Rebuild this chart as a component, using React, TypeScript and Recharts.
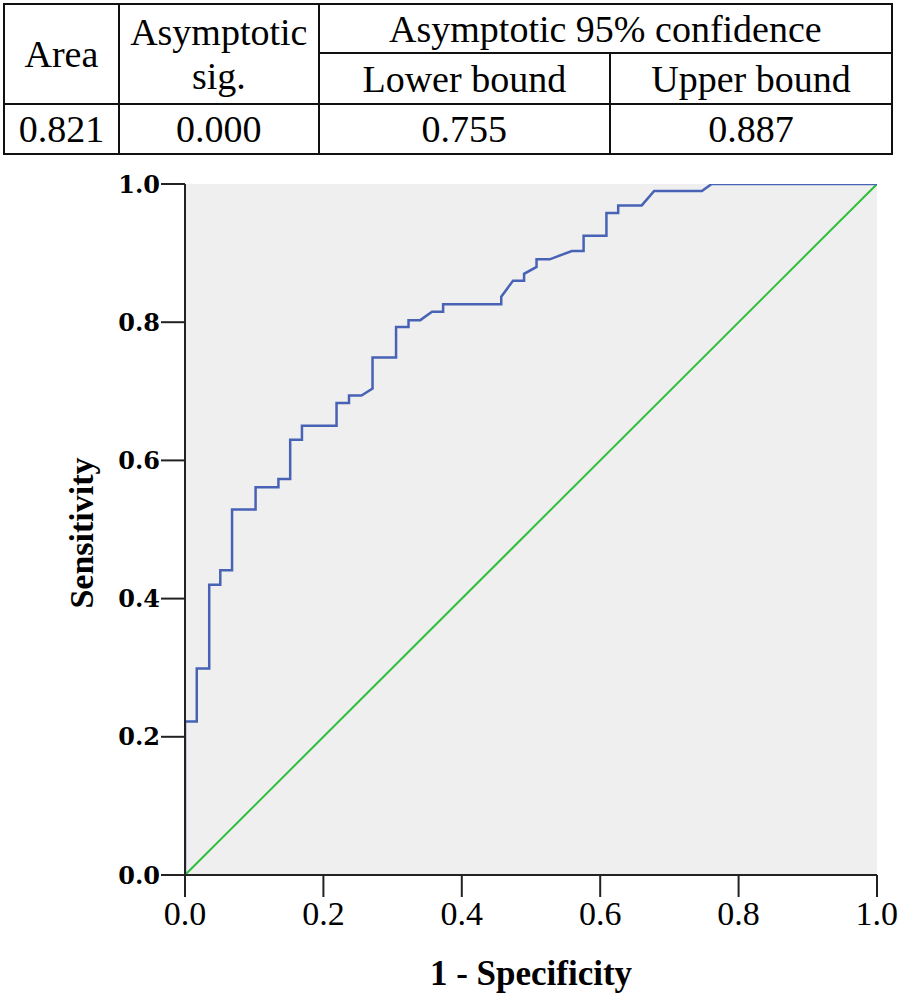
import React from 'react';
import { LineChart, Line, XAxis, YAxis, CartesianGrid, Label } from 'recharts';

// ROC curve vertices
const fpr = [
  0, 0, 0.017, 0.017, 0.035, 0.035, 0.051, 0.051, 0.068, 0.068, 0.102, 0.102,
  0.135, 0.135, 0.152, 0.152, 0.169, 0.169, 0.219, 0.219, 0.237, 0.237, 0.255,
  0.271, 0.271, 0.305, 0.305, 0.323, 0.323, 0.34, 0.357, 0.373, 0.373, 0.457,
  0.457, 0.474, 0.49, 0.49, 0.508, 0.508, 0.527, 0.559, 0.576, 0.576, 0.609,
  0.609, 0.626, 0.626, 0.66, 0.678, 0.747, 0.761, 1.0,
];
const tpr = [
  0, 0.222, 0.222, 0.299, 0.299, 0.42, 0.42, 0.441, 0.441, 0.529, 0.529, 0.561,
  0.561, 0.573, 0.573, 0.63, 0.63, 0.65, 0.65, 0.683, 0.683, 0.694, 0.694,
  0.704, 0.749, 0.749, 0.793, 0.793, 0.803, 0.803, 0.815, 0.815, 0.826, 0.826,
  0.837, 0.86, 0.86, 0.87, 0.88, 0.891, 0.891, 0.903, 0.903, 0.925, 0.925,
  0.958, 0.958, 0.969, 0.969, 0.99, 0.99, 1.0, 1.0,
];
const diagX = [0, 1];
const diagY = [0, 1];
const axisTicks = [0, 0.2, 0.4, 0.6, 0.8, 1.0];

const tableHead = ['Area', 'Asymptotic', 'sig.', 'Asymptotic 95% confidence', 'Lower bound', 'Upper bound'];
const tableRow = ['0.821', '0.000', '0.755', '0.887'];

const rocRows = fpr.map((x, i) => ({ x, y: tpr[i] }));
const diagRows = diagX.map((x, i) => ({ x, y: diagY[i] }));

const serif = '"Liberation Serif", "Times New Roman", serif';

const cell: React.CSSProperties = {
  border: '2px solid #111',
  padding: 0,
  textAlign: 'center',
  verticalAlign: 'middle',
  lineHeight: '44px',
};

function StatsTable() {
  return (
    <table
      style={{
        position: 'absolute',
        left: 3,
        top: 3,
        width: 890,
        height: 150,
        borderCollapse: 'collapse',
        fontFamily: serif,
        fontSize: 38,
        color: '#000',
        background: '#fff',
      }}
    >
      <colgroup>
        <col style={{ width: 115 }} />
        <col style={{ width: 200 }} />
        <col style={{ width: 292 }} />
        <col style={{ width: 283 }} />
      </colgroup>
      <tbody>
        <tr style={{ height: 49 }}>
          <td style={cell} rowSpan={2}>{tableHead[0]}</td>
          <td style={cell} rowSpan={2}>
            {tableHead[1]}
            <br />
            {tableHead[2]}
          </td>
          <td style={cell} colSpan={2}>{tableHead[3]}</td>
        </tr>
        <tr style={{ height: 51 }}>
          <td style={cell}>{tableHead[4]}</td>
          <td style={cell}>{tableHead[5]}</td>
        </tr>
        <tr style={{ height: 50 }}>
          {tableRow.map((v) => (
            <td key={v} style={cell}>{v}</td>
          ))}
        </tr>
      </tbody>
    </table>
  );
}

const yTitle = () => (
  <text
    x={93}
    y={533}
    transform="rotate(-90 93 533)"
    textAnchor="middle"
    fontFamily={serif}
    fontWeight="bold"
    fontSize={34}
    fill="#000"
  >
    Sensitivity
  </text>
);

export default function App() {
  return (
    <div style={{ position: 'absolute', left: 0, top: 0, width: 898, height: 996, background: '#fff' }}>
      <div style={{ position: 'absolute', left: 0, top: 0 }}>
        <LineChart width={898} height={996} margin={{ top: 184, right: 21, bottom: 0, left: 0 }}>
          <CartesianGrid horizontal={false} vertical={false} fill="#efefef" fillOpacity={1} />
          <XAxis
            dataKey="x"
            type="number"
            domain={[0, 1]}
            ticks={axisTicks}
            tickFormatter={(v: number) => v.toFixed(1)}
            height={121}
            tickSize={22}
            tickMargin={4}
            axisLine={{ stroke: '#222', strokeWidth: 2 }}
            tickLine={{ stroke: '#222', strokeWidth: 2 }}
            tick={{ fontFamily: serif, fontSize: 34, fill: '#000' }}
            allowDataOverflow
          >
            <Label
              value="1 - Specificity"
              position="insideBottom"
              offset={11}
              style={{ fontFamily: serif, fontSize: 35, fontWeight: 'bold', fill: '#000' }}
            />
          </XAxis>
          <XAxis
            xAxisId="top"
            orientation="top"
            type="number"
            domain={[0, 1]}
            height={0}
            tick={false}
            tickLine={false}
            axisLine={{ stroke: '#666', strokeWidth: 2 }}
          />
          <YAxis
            type="number"
            domain={[0, 1]}
            ticks={axisTicks}
            tickFormatter={(v: number) => v.toFixed(1)}
            width={185}
            tickSize={24}
            tickMargin={1}
            axisLine={{ stroke: '#222', strokeWidth: 2 }}
            tickLine={{ stroke: '#222', strokeWidth: 2 }}
            tick={{ fontFamily: '"DejaVu Serif", serif', fontSize: 24, fontWeight: 'bold', fill: '#000' }}
            allowDataOverflow
          >
            <Label content={yTitle} />
          </YAxis>
          <YAxis
            yAxisId="right"
            orientation="right"
            type="number"
            domain={[0, 1]}
            width={0}
            tick={false}
            tickLine={false}
            axisLine={{ stroke: '#666', strokeWidth: 2 }}
          />
          <Line
            data={diagRows}
            dataKey="y"
            type="linear"
            stroke="#2fbf3c"
            strokeWidth={2}
            dot={false}
            isAnimationActive={false}
          />
          <Line
            data={rocRows}
            dataKey="y"
            type="linear"
            stroke="#4862b5"
            strokeWidth={2.5}
            dot={false}
            isAnimationActive={false}
          />
        </LineChart>
      </div>
      <StatsTable />
    </div>
  );
}
